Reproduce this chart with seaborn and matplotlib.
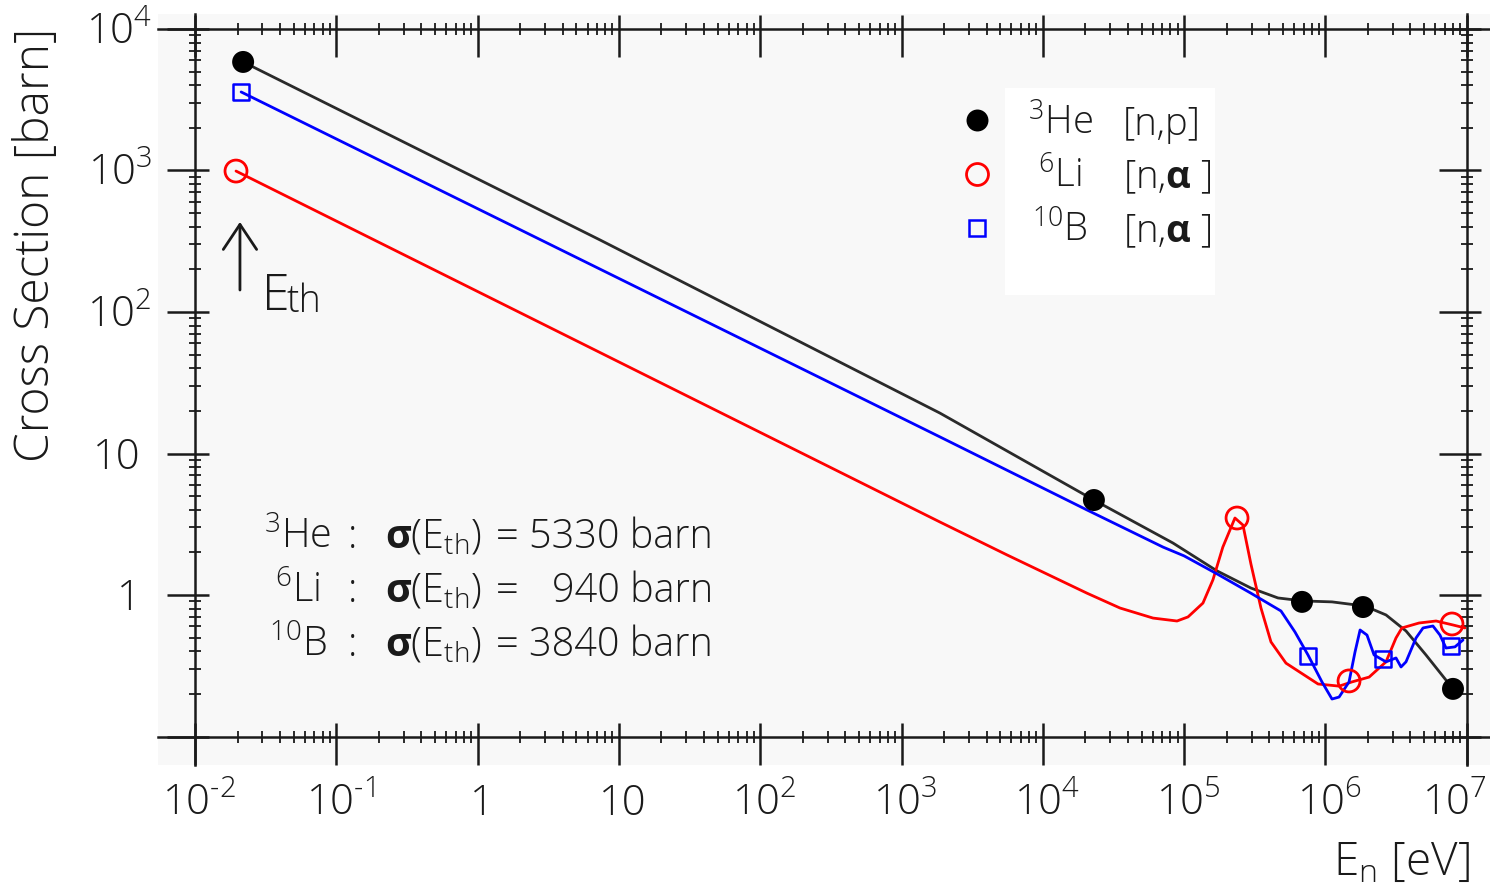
import matplotlib
matplotlib.use('Agg')
import matplotlib.pyplot as plt
import seaborn as sns
from matplotlib.ticker import FixedLocator, NullFormatter
from matplotlib.transforms import ScaledTranslation, offset_copy
from matplotlib.patches import Rectangle

# ---------------------------------------------------------------
# data (energy in eV, cross section in barn)
# ---------------------------------------------------------------
he3_line_e = [0.0219, 7.35, 1871, 23000, 83400, 1.71e5, 2.97e5, 4.62e5, 6.95e5,
              1.114e6, 1.905e6, 2.685e6, 3.72e6, 5.15e6, 8.0e6]
he3_line_s = [5850, 323, 19.3, 4.69, 2.33, 1.48, 1.12, 0.953, 0.908,
              0.894, 0.835, 0.723, 0.557, 0.377, 0.217]
he3_mark_e = [0.0219, 23000, 6.83e5, 1.845e6, 8.0e6]
he3_mark_s = [5850, 4.69, 0.894, 0.822, 0.217]

li6_line_e = [0.0195, 1871, 5580, 20550, 35200, 60300, 89100, 1.066e5, 1.36e5,
              1.60e5, 1.88e5, 2.29e5, 2.61e5, 2.97e5, 3.50e5, 4.12e5, 5.26e5,
              8.87e5, 1.25e6, 1.54e6, 2.04e6, 2.685e6, 3.16e6, 3.48e6, 4.60e6,
              6.07e6, 8.0e6, 9.72e6]
li6_line_s = [991, 3.28, 1.92, 1.03, 0.809, 0.687, 0.655, 0.700, 0.877,
              1.28, 2.18, 3.50, 3.12, 1.66, 0.809, 0.466, 0.330,
              0.235, 0.227, 0.243, 0.263, 0.337, 0.497, 0.585, 0.634,
              0.655, 0.614, 0.585]
li6_mark_e = [0.0195, 2.37e5, 1.47e6, 7.87e6]
li6_mark_s = [991, 3.50, 0.247, 0.624]

b10_line_e = [0.0212, 1871, 20550, 71000, 1.0e5, 1.71e5, 2.97e5, 4.85e5, 6.09e5,
              7.53e5, 9.46e5, 1.114e6, 1.25e6, 1.47e6, 1.62e6, 1.76e6, 1.97e6,
              2.21e6, 2.685e6, 3.16e6, 3.43e6, 3.72e6, 4.38e6, 4.91e6, 5.77e6,
              6.47e6, 7.14e6, 8.26e6, 9.42e6]
b10_line_s = [3590, 13.1, 3.99, 2.18, 1.89, 1.41, 1.03, 0.771, 0.548,
              0.377, 0.243, 0.184, 0.190, 0.243, 0.395, 0.566, 0.521,
              0.377, 0.337, 0.359, 0.310, 0.337, 0.497, 0.585, 0.604,
              0.521, 0.422, 0.430, 0.481]
b10_mark_e = [0.0212, 7.53e5, 2.56e6, 7.74e6]
b10_mark_s = [3590, 0.371, 0.353, 0.436]

# thermal energy arrow (tail / tip)
eth_energy = 0.0208
eth_arrow_s = [143, 433]

x_major = [1e-2, 1e-1, 1, 10, 1e2, 1e3, 1e4, 1e5, 1e6, 1e7]
x_labels = [r'$\mathregular{10^{\text{-}2}}$', r'$\mathregular{10^{\text{-}1}}$', '1', '10',
            r'$\mathregular{10^{2}}$', r'$\mathregular{10^{3}}$', r'$\mathregular{10^{4}}$',
            r'$\mathregular{10^{5}}$', r'$\mathregular{10^{6}}$', r'$\mathregular{10^{7}}$']
y_major = [0.1, 1, 10, 1e2, 1e3, 1e4]
y_labels = ['', '1', '10', r'$\mathregular{10^{2}}$', r'$\mathregular{10^{3}}$',
            r'$\mathregular{10^{4}}$']

isotopes = [r'$^{\mathregular{3}}$He', r'$^{\mathregular{6}}$Li', r'$^{\mathregular{10}}$B']
reactions = ['[n,p]', r'[n,$\mathbf{\alpha}$ ]', r'[n,$\mathbf{\alpha}$ ]']
sigma_th = ['5330 barn', '940 barn', '3840 barn']

# ---------------------------------------------------------------
# style
# ---------------------------------------------------------------
sns.set_style('white')
plt.rcParams['font.family'] = ['Open Sans', 'DejaVu Sans']
plt.rcParams['font.weight'] = 'light'
plt.rcParams['mathtext.fontset'] = 'custom'
plt.rcParams['mathtext.rm'] = 'Open Sans:light'
plt.rcParams['mathtext.bf'] = 'Open Sans:bold'
plt.rcParams['mathtext.it'] = 'Open Sans:italic:light'

INK = '#1a1a1a'

fig = plt.figure(figsize=(14.9, 8.9), dpi=100)
fig.patch.set_facecolor('white')
ax = fig.add_axes([158 / 1490, 125 / 890, 1332 / 1490, 751 / 890])
ax.set_xscale('log')
ax.set_yscale('log')
ax.set_xlim(10 ** -2.262, 10 ** 7.165)
ax.set_ylim(10 ** -1.2014, 10 ** 4.106)
ax.set_facecolor('#f8f8f8')

# white "erased" box behind the legend
ax.add_patch(Rectangle((0.6359, 0.6258), 0.1576, 0.2757, transform=ax.transAxes,
                       facecolor='white', edgecolor='none', zorder=0.5))

# curves
sns.lineplot(x=he3_line_e, y=he3_line_s, color='#2a2a2a', lw=2, sort=False,
             estimator=None, ax=ax, zorder=2)
sns.lineplot(x=li6_line_e, y=li6_line_s, color='#ff0000', lw=2, sort=False,
             estimator=None, ax=ax, zorder=2)
sns.lineplot(x=b10_line_e, y=b10_line_s, color='#0000ff', lw=2, sort=False,
             estimator=None, ax=ax, zorder=2)

# markers
sns.scatterplot(x=he3_mark_e, y=he3_mark_s, marker='o', s=250, color='black',
                edgecolor='none', linewidth=0, ax=ax, zorder=4)
sns.scatterplot(x=li6_mark_e, y=li6_mark_s, marker='o', s=250, facecolor='none',
                edgecolor='#ff0000', linewidth=2, ax=ax, zorder=4)
sns.scatterplot(x=b10_mark_e, y=b10_mark_s, marker='s', s=141, facecolor='none',
                edgecolor='#0000ff', linewidth=1.8, ax=ax, zorder=4)

# frame: crossing lines at the decade limits
for side, pos in [('left', 1e-2), ('right', 1e7), ('bottom', 0.1), ('top', 1e4)]:
    ax.spines[side].set_position(('data', pos))
    ax.spines[side].set_linewidth(1.8)
    ax.spines[side].set_color(INK)
    ax.spines[side].set_visible(True)

x_minor = [m * 10.0 ** k for k in range(-2, 7) for m in range(2, 10)]
y_minor = [m * 10.0 ** k for k in range(-1, 4) for m in range(2, 10)]
ax.xaxis.set_major_locator(FixedLocator(x_major))
ax.xaxis.set_minor_locator(FixedLocator(x_minor))
ax.yaxis.set_major_locator(FixedLocator(y_major))
ax.yaxis.set_minor_locator(FixedLocator(y_minor))
for a in (ax.xaxis, ax.yaxis):
    a.set_major_formatter(NullFormatter())
    a.set_minor_formatter(NullFormatter())

ax.tick_params(which='major', direction='inout', length=30.2, width=1.8, color=INK,
               bottom=True, top=True, left=True, right=True,
               labelbottom=False, labelleft=False)
ax.tick_params(which='minor', direction='inout', length=8.6, width=1.3, color=INK,
               bottom=True, top=True, left=True, right=True)

# hand-drawn ticks sit a little lower / further left than centred
down = ScaledTranslation(0, -7 / 100, fig.dpi_scale_trans)
left = ScaledTranslation(-7 / 100, 0, fig.dpi_scale_trans)
for t in ax.xaxis.get_major_ticks():
    for ln in (t.tick1line, t.tick2line):
        ln.set_transform(ln.get_transform() + down)
for t in ax.yaxis.get_major_ticks():
    for ln in (t.tick1line, t.tick2line):
        ln.set_transform(ln.get_transform() + left)

# tick labels, baseline aligned
for i, (v, lab) in enumerate(zip(x_major, x_labels)):
    last = i == len(x_major) - 1
    tr = offset_copy(ax.transData, fig=fig, x=20 if last else 4, y=-78, units='dots')
    ax.text(v, 0.1, lab, transform=tr, ha='right' if last else 'center',
            va='baseline', fontsize=30, color=INK)
for v, lab in zip(y_major, y_labels):
    dx = -43 if '^' in lab else -54
    tr = offset_copy(ax.transData, fig=fig, x=dx, y=-15, units='dots')
    ax.text(1e-2, v, lab, transform=tr, ha='right', va='baseline',
            fontsize=30, color=INK)

# axis titles
fig.text(37 / 1490, 1 - 245 / 890, 'Cross Section [barn]', rotation=90,
         ha='center', va='center', fontsize=34.5, color=INK)
fig.text(1401 / 1490, 1 - 862 / 890, r'E$_{\mathregular{n}}$ [eV]',
         ha='center', va='center', fontsize=33, color=INK)

# thermal energy arrow
ax.annotate('', xy=(eth_energy, eth_arrow_s[1]), xytext=(eth_energy, eth_arrow_s[0]),
            arrowprops=dict(arrowstyle='->,head_length=0.9,head_width=0.6',
                            lw=2, color=INK, shrinkA=0, shrinkB=0,
                            mutation_scale=20), zorder=3)
ax.text(0.0781, 0.6059, 'E', transform=ax.transAxes, fontsize=36,
        ha='left', va='baseline', color=INK)
ax.text(0.0966, 0.6032, 'th', transform=ax.transAxes, fontsize=27,
        ha='left', va='baseline', color=INK)

# legend (drawn by hand, as in the original)
leg_marker_y = [0.8589, 0.7870, 0.7150]
leg_base_y = [0.8389, 0.7683, 0.6964]
ax.plot([0.6149], [leg_marker_y[0]], 'o', ms=15.8, color='black', mec='none',
        transform=ax.transAxes, zorder=5, clip_on=False)
ax.plot([0.6149], [leg_marker_y[1]], 'o', ms=15.8, mfc='none', mec='#ff0000',
        mew=2, transform=ax.transAxes, zorder=5, clip_on=False)
ax.plot([0.6149], [leg_marker_y[2]], 's', ms=11.9, mfc='none', mec='#0000ff',
        mew=1.8, transform=ax.transAxes, zorder=5, clip_on=False)
for iso, rea, yb in zip(isotopes, reactions, leg_base_y):
    ax.text(0.6772, yb, iso, transform=ax.transAxes, fontsize=27.5,
            ha='center', va='baseline', color=INK, zorder=5)
    ax.text(0.7245, yb, rea, transform=ax.transAxes, fontsize=27.5,
            ha='left', va='baseline', color=INK, zorder=5)

# thermal cross sections
ann_base_y = [0.2889, 0.2170, 0.1451]
for iso, val, yb in zip(isotopes, sigma_th, ann_base_y):
    ax.text(0.1051, yb, iso, transform=ax.transAxes, fontsize=28.5,
            ha='center', va='baseline', color=INK, zorder=5)
    ax.text(0.1464, yb, ':', transform=ax.transAxes, fontsize=28.5,
            ha='center', va='baseline', color=INK, zorder=5)
    ax.text(0.1704, yb, r'$\mathbf{\sigma}\mathregular{(E_{th})}$',
            transform=ax.transAxes, fontsize=28.5, ha='left', va='baseline',
            color=INK, zorder=5)
    ax.text(0.2620, yb, '=', transform=ax.transAxes, fontsize=28.5,
            ha='center', va='baseline', color=INK, zorder=5)
    ax.text(0.4167, yb, val, transform=ax.transAxes, fontsize=28.5,
            ha='right', va='baseline', color=INK, zorder=5)

fig.savefig('out.png', dpi=100, facecolor='white')
